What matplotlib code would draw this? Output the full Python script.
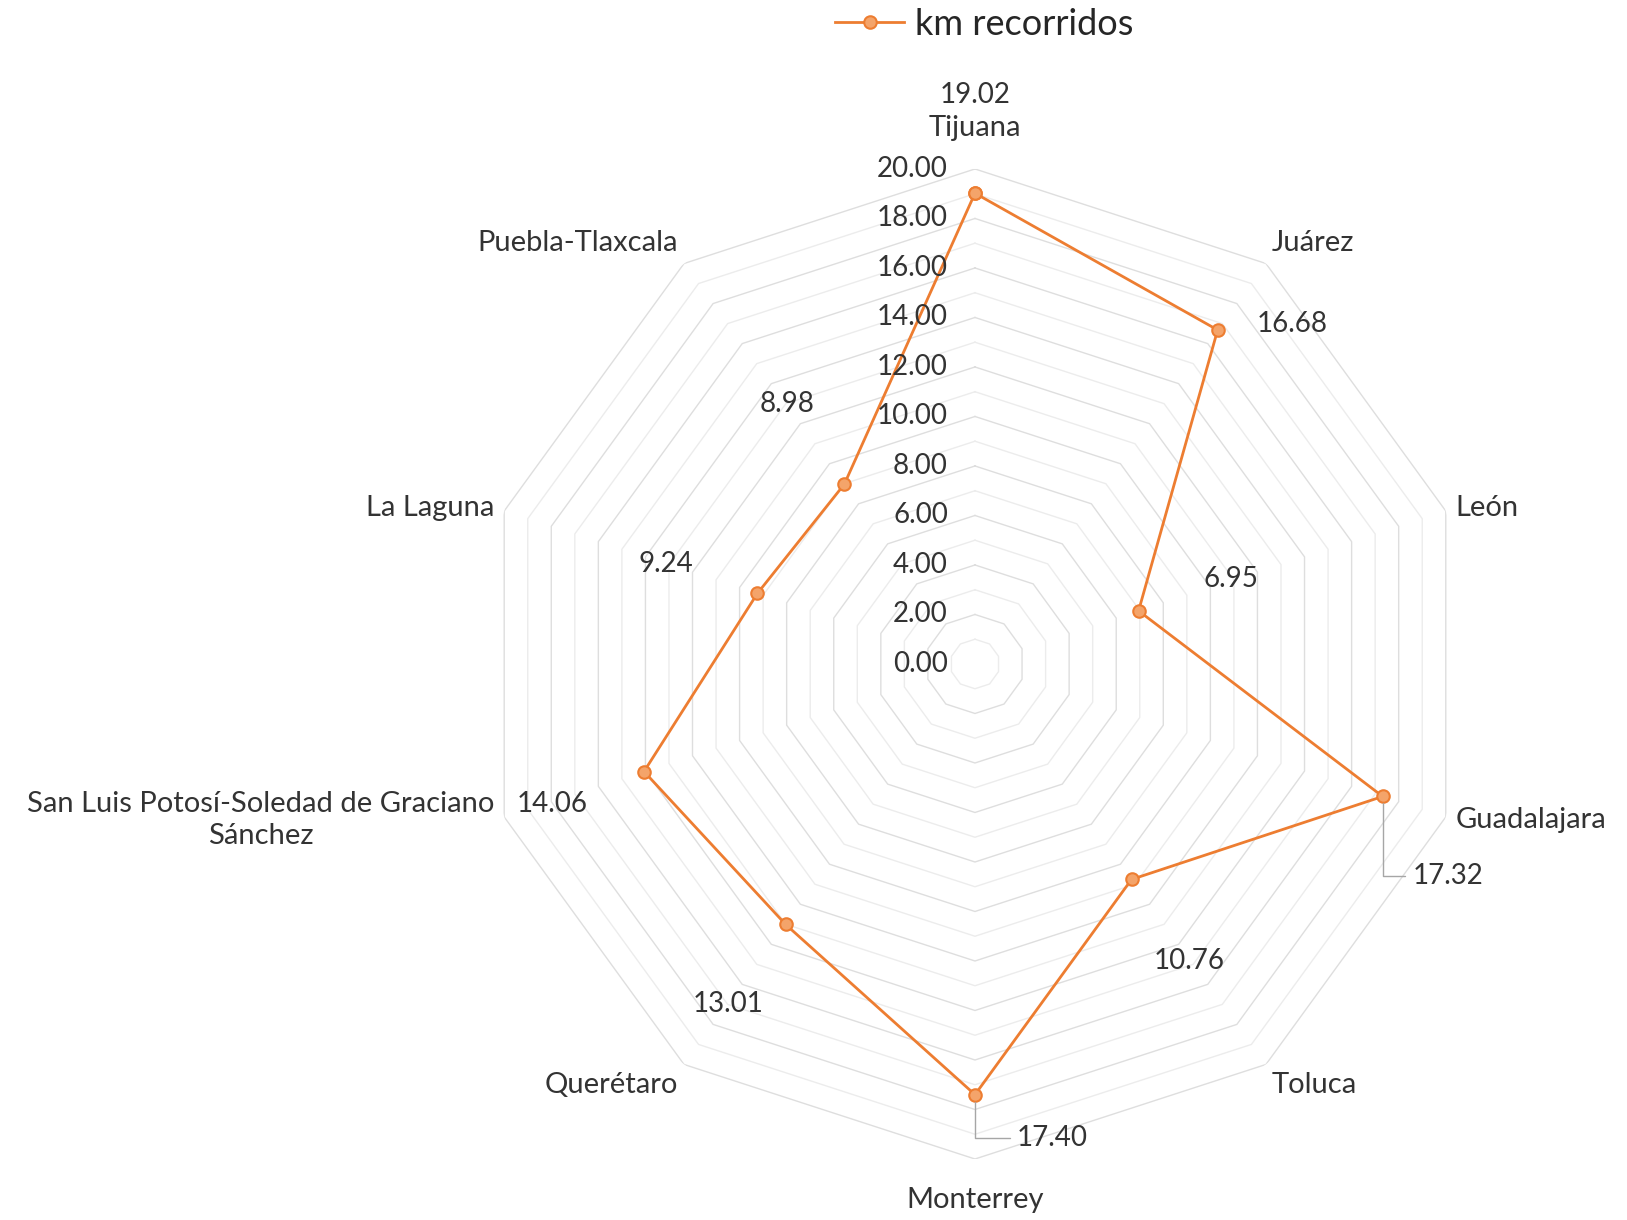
import numpy as np
import matplotlib.pyplot as plt

plt.rcParams['font.family'] = ['Lato', 'DejaVu Sans']

ciudades = ['Tijuana', 'Juárez', 'León', 'Guadalajara', 'Toluca', 'Monterrey',
            'Querétaro', 'San Luis Potosí-Soledad de Graciano\nSánchez',
            'La Laguna', 'Puebla-Tlaxcala']
km = [19.02, 16.68, 6.95, 17.32, 10.76, 17.40, 13.01, 14.06, 9.24, 8.98]
ticks = [0, 2, 4, 6, 8, 10, 12, 14, 16, 18, 20]

naranja = '#ED7D31'
texto = '#333333'

fig = plt.figure(figsize=(16.27, 12.2), dpi=100)
ax = fig.add_axes([0.295, 0.05, 0.6085, 0.8115], projection='polar')
ax.set_theta_zero_location('N')
ax.set_theta_direction(-1)
ax.set_ylim(0, 20)
ax.axis('off')

n = len(ciudades)
ang = np.arange(n) * 2 * np.pi / n
ang_c = np.append(ang, ang[0])

# polygon grid, every 1 km with darker rings on the labelled values
for r in range(1, 21):
    c = '#dedede' if r % 2 == 0 else '#ececec'
    ax.plot(ang_c, [r] * (n + 1), color=c, lw=1, zorder=1)

line, = ax.plot(ang_c, km + km[:1], color=naranja, lw=2, marker='o', ms=9,
                mfc='#F4A46A', mec=naranja, mew=1.5, zorder=3,
                label='km recorridos')

for t in ticks:
    ax.annotate(f'{t:.2f}', xy=(0, t), xytext=(-27, 0), textcoords='offset pixels',
                ha='right', va='center', fontsize=20, color=texto, zorder=4)

# category labels around the outside
lab_r = [21.15, 20.4, 20.4, 20.4, 20.4, 21.15, 20.4, 20.4, 20.4, 20.4]
lab_ha = ['center', 'left', 'left', 'left', 'left', 'center', 'right', 'right', 'right', 'right']
lab_va = ['bottom', 'bottom', 'center', 'center', 'top', 'top', 'top', 'center', 'center', 'bottom']
for a, name, r, ha, va in zip(ang, ciudades, lab_r, lab_ha, lab_va):
    ax.text(a, r, name, ha=ha, va=va, fontsize=21, color=texto,
            multialignment='center', linespacing=1.3, zorder=4)

# value labels next to each point
offs = [(0, 98), (75, 6), (92, 32), (65, -80), (58, -82),
        (77, -43), (-58, -80), (-92, -32), (-92, 29), (-57, 80)]
leader = [False, False, False, True, False, True, False, False, False, False]
for a, v, (dx, dy), ld in zip(ang, km, offs, leader):
    kw = {}
    if ld:
        kw['arrowprops'] = dict(arrowstyle='-', color='#a6a6a6', lw=1,
                                connectionstyle='angle,angleA=0,angleB=90,rad=0',
                                shrinkA=3, shrinkB=5, relpos=(0, 0.5))
    ax.annotate(f'{v:.2f}', xy=(a, v), xytext=(dx, dy), textcoords='offset pixels',
                ha='center', va='center', fontsize=20, color=texto, zorder=4, **kw)

fig.legend(handles=[line], loc='upper center', bbox_to_anchor=(0.605, 1.02),
           frameon=False, fontsize=26, handlelength=1.9, handletextpad=0.3,
           labelcolor='#262626')

fig.savefig('out.png', dpi=100, facecolor='white')
